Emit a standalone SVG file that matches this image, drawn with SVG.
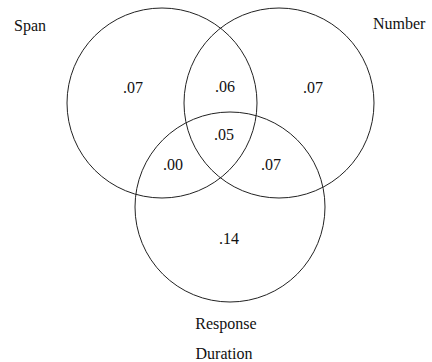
<svg xmlns="http://www.w3.org/2000/svg" width="432" height="362" viewBox="0 0 432 362">
<style>
.c{fill:none;stroke:#222;stroke-width:1}
text{font-family:"Liberation Serif","Times New Roman",serif;font-size:16px;fill:#111}
.m{text-anchor:middle}
</style>
<rect width="432" height="362" fill="#fff"/>
<g id="span"><circle class="c" cx="162" cy="103" r="95"/><text x="14" y="31">Span</text></g>
<g id="number"><circle class="c" cx="279" cy="103" r="95"/><text x="373" y="29">Number</text></g>
<g id="response-duration"><circle class="c" cx="230" cy="207" r="95"/><text class="m" x="226" y="329">Response</text><text class="m" x="224" y="359">Duration</text></g>
<g id="regions">
<text class="m" x="133" y="93">.07</text>
<text class="m" x="225" y="92">.06</text>
<text class="m" x="313" y="93">.07</text>
<text class="m" x="224" y="140">.05</text>
<text class="m" x="173" y="170">.00</text>
<text class="m" x="271" y="170">.07</text>
<text class="m" x="229" y="244">.14</text>
</g>
<g id="connectors"></g>
</svg>
